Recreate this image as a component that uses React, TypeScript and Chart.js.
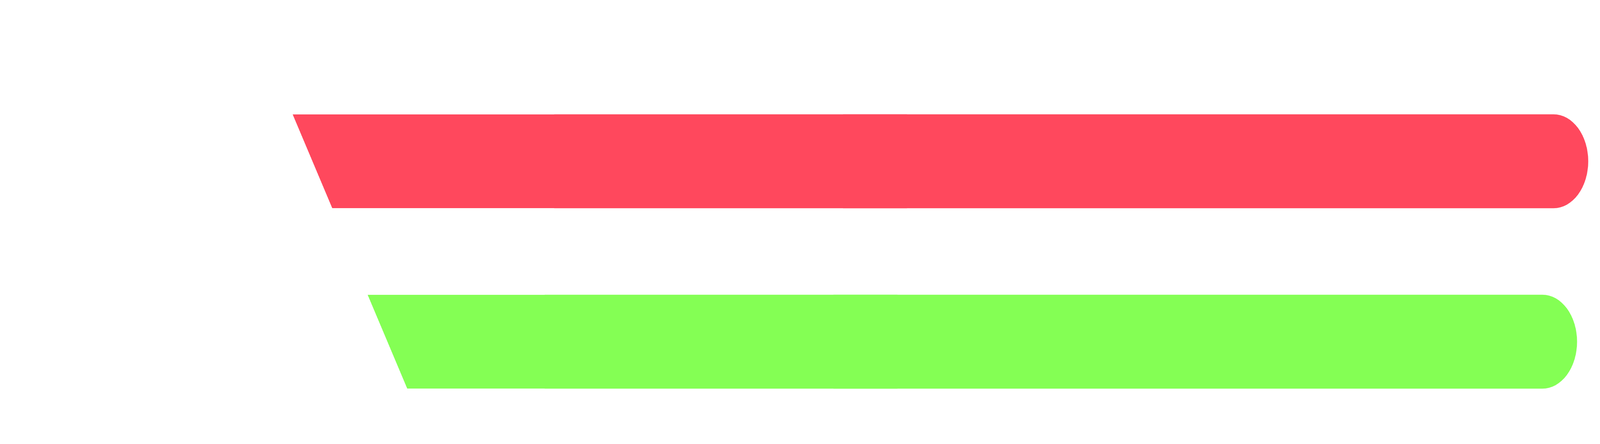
import { useEffect, useRef } from "react";
import { Chart, registerables } from "chart.js";

Chart.register(...registerables);

// two rows, each made of three overlapping floating segments [start, end]
const rows = ["Red", "Green"];
const rowColors = ["#FF485D", "#84FF54"];
const firstSegment: [number, number][] = [
  [18.2, 38.1],
  [22.9, 37.5],
];
const middleSegment: [number, number][] = [
  [34.6, 56.7],
  [34.0, 56.1],
];
const lastSegment: [number, number][] = [
  [52.7, 99.4],
  [52.1, 98.7],
];

// the chart is laid out for a window this wide; narrower windows squeeze it horizontally
const LAYOUT_WIDTH = 5533;

// horizontal shift of the bottom-left corner, as a share of the bar height
const SLANT = 0.57;

// draws the first segment as a parallelogram instead of a rectangle
const slantStartPlugin = {
  id: "slantStart",
  beforeDatasetDraw(chart: any, args: any) {
    if (args.index !== 0) return;
    const ctx = chart.ctx;
    ctx.save();
    args.meta.data.forEach((bar: any) => {
      const { x, y, base, height } = bar.getProps(["x", "y", "base", "height"], true);
      const top = y - height / 2;
      const bottom = y + height / 2;
      ctx.beginPath();
      ctx.moveTo(base, top);
      ctx.lineTo(x, top);
      ctx.lineTo(x, bottom);
      ctx.lineTo(base + height * SLANT, bottom);
      ctx.closePath();
      ctx.fillStyle = bar.options.backgroundColor;
      ctx.fill();
    });
    ctx.restore();
    return false;
  },
};

export default function App() {
  const chartRef = useRef<HTMLCanvasElement>(null);
  const chartInstance = useRef<Chart | null>(null);
  const fit = Math.min(1, window.innerWidth / LAYOUT_WIDTH);

  useEffect(() => {
    if (!chartRef.current) return;
    if (chartInstance.current) chartInstance.current.destroy();

    chartInstance.current = new Chart(chartRef.current, {
      type: "bar",
      data: {
        labels: rows,
        datasets: [
          {
            label: "Start",
            data: firstSegment,
            backgroundColor: rowColors,
            borderWidth: 0,
            grouped: false,
            barThickness: 240,
          },
          {
            label: "Middle",
            data: middleSegment,
            backgroundColor: rowColors,
            borderWidth: 0,
            grouped: false,
            barThickness: 240,
          },
          {
            label: "End",
            data: lastSegment,
            backgroundColor: rowColors,
            borderWidth: 0,
            borderSkipped: false,
            borderRadius: { topLeft: 0, bottomLeft: 0, topRight: 120, bottomRight: 120 },
            grouped: false,
            barThickness: 240,
          },
        ] as any,
      },
      options: {
        indexAxis: "y",
        animation: false,
        responsive: true,
        maintainAspectRatio: false,
        layout: { padding: { top: 174, bottom: 23, left: 0, right: 0 } },
        scales: {
          x: { display: false, min: 0, max: 100 },
          y: { display: false },
        },
        plugins: {
          legend: { display: false },
          tooltip: { enabled: false },
        },
      } as any,
      plugins: [slantStartPlugin],
    });

    return () => {
      if (chartInstance.current) {
        chartInstance.current.destroy();
        chartInstance.current = null;
      }
    };
  }, []);

  return (
    <div style={{ height: 1121, overflow: "hidden" }}>
      <div
        style={{
          width: LAYOUT_WIDTH - 16,
          height: 1121,
          transform: `scaleX(${fit})`,
          transformOrigin: "-8px 0",
        }}
      >
        <canvas ref={chartRef}></canvas>
      </div>
    </div>
  );
}
